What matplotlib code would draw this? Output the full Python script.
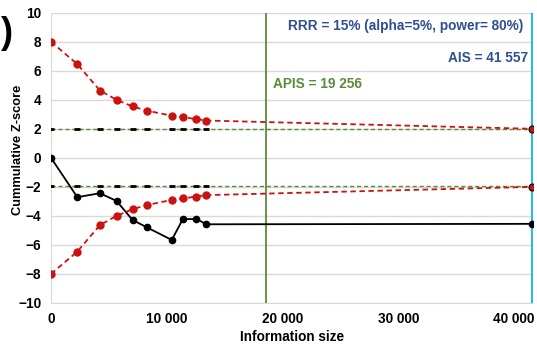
import numpy as np
import matplotlib.pyplot as plt

plt.rcParams["font.family"] = ["Liberation Sans", "DejaVu Sans"]
plt.rcParams["font.weight"] = "bold"

# information size at each interim analysis
info = [0, 2270, 4220, 5660, 7040, 8250, 10430, 11380, 12560, 13420]
# cumulative Z-curve
zcurve = [0.0, -2.71, -2.44, -2.97, -4.28, -4.78, -5.66, -4.23, -4.21, -4.58]
# upper monitoring boundary (lower one is its mirror)
bound = [8.0, 6.46, 4.64, 4.0, 3.54, 3.26, 2.9, 2.8, 2.67, 2.57]

ais = 41557        # required information size
apis_pos = 18530   # where the APIS line sits on the axis
z_final = -4.55
bound_final = 2.0
conv = 1.96        # conventional boundary

red = "#cc1111"
green = "#5b8c3a"
cyan = "#2cb7ea"
navy = "#2f4f92"
fs = 9.8

fig = plt.figure(figsize=(5.37, 3.49), dpi=100)
ax = fig.add_axes([0.095, 0.132, 0.898, 0.8315])

# conventional boundaries
for s in (1, -1):
    ax.plot([0, ais], [s * conv, s * conv], color=green, ls=(0, (3, 2)), lw=1.0, zorder=2)
    ax.plot(info, [s * conv] * len(info), ls="none", marker="_", color="k",
            ms=5, mew=2.0, zorder=3)

# monitoring boundaries
x_b = info + [ais]
up = bound + [bound_final]
for s in (1, -1):
    ax.plot(x_b, [s * v for v in up], color=red, ls=(0, (3, 2)), lw=1.3, marker="o",
            ms=5, markevery=list(range(len(info))), zorder=4)
    ax.plot([ais], [s * bound_final], "o", color=red, ms=5, mec="k", mew=0.8, zorder=6)

# Z-curve
ax.plot(info + [ais], zcurve + [z_final], color="k", lw=1.3, marker="o", ms=4.5,
        zorder=5)

# information size lines
ax.axvline(apis_pos, color=green, lw=1.3, zorder=3)
ax.axvline(ais, color=cyan, lw=1.5, zorder=3)

ax.text(40790, 9.1, "RRR = 15% (alpha=5%, power= 80%)", color=navy,
        fontsize=fs, fontweight="bold", ha="right", va="center")
ax.text(41220, 6.9, "AIS = 41 557", color=navy, fontsize=fs,
        fontweight="bold", ha="right", va="center")
ax.text(19150, 5.1, "APIS = 19 256", color=green, fontsize=fs,
        fontweight="bold", ha="left", va="center")

ax.set_xlim(0, 41650)
ax.set_ylim(-10, 10)
ax.set_yticks(np.arange(-10, 11, 2))
ax.set_xticks([0, 10000, 20000, 30000, 40000])
ax.set_xticklabels(["0", "10 000", "20 000", "30 000", "40 000"])
ax.yaxis.grid(True, color="#d9d9d9", lw=1.0)
ax.set_axisbelow(True)
ax.tick_params(length=0, labelsize=fs)
ax.tick_params(axis="x", pad=6.5)
ax.tick_params(axis="y", pad=7)
for lab in ax.get_xticklabels() + ax.get_yticklabels():
    lab.set_fontweight("bold")
for side in ("top", "right"):
    ax.spines[side].set_visible(False)
for side in ("left", "bottom"):
    ax.spines[side].set_color("#d9d9d9")

ax.set_xlabel("Information size", fontsize=fs, fontweight="bold")
ax.set_ylabel("Cummulative Z-score", fontsize=9.3, fontweight="bold")
ax.xaxis.set_label_coords(0.5, -0.092)
ax.yaxis.set_label_coords(-0.057, 0.528)

fig.text(0.5 / 537, 0.905, ")", fontsize=26, fontweight="bold", ha="left", va="center")

fig.savefig("out.png", dpi=100)
